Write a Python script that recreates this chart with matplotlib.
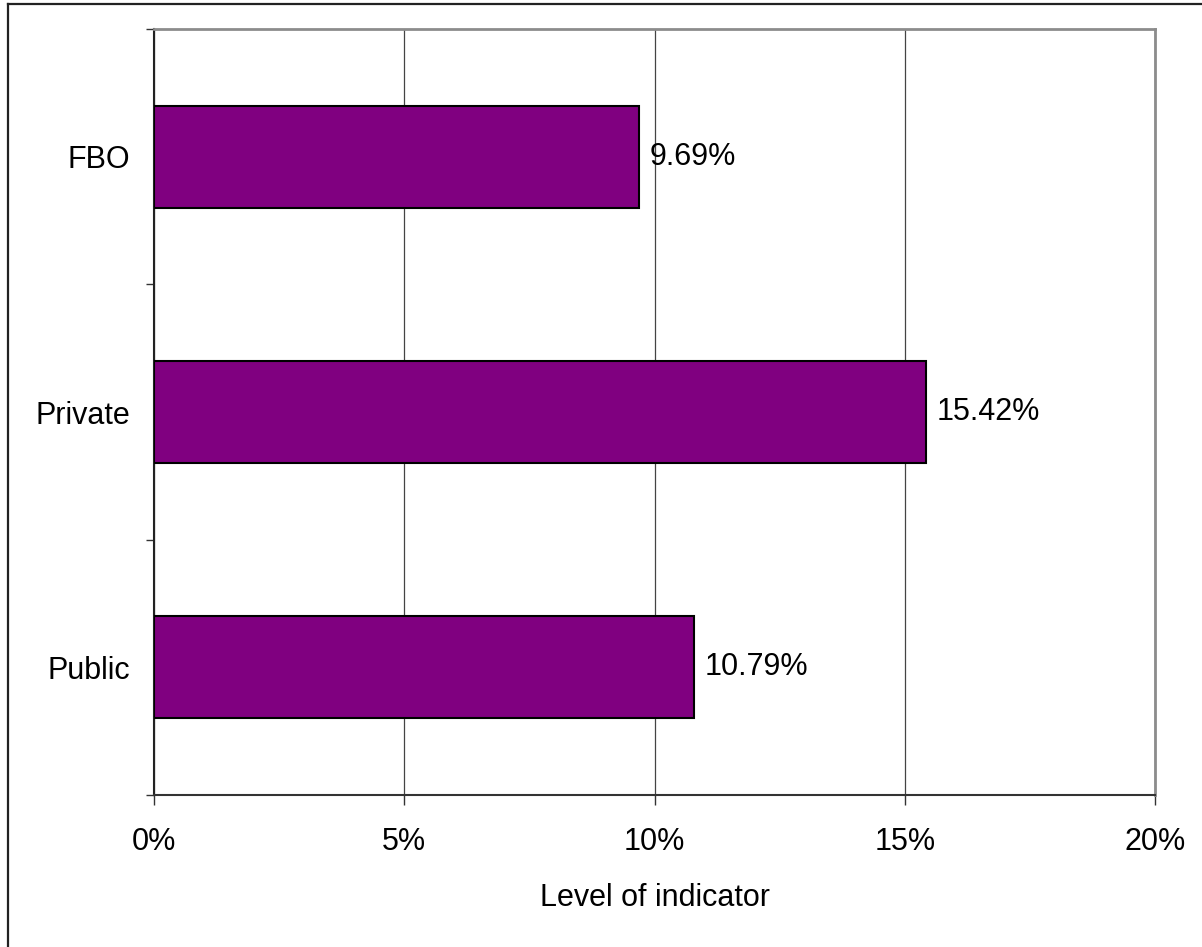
import matplotlib
matplotlib.use("Agg")
import matplotlib.pyplot as plt
from matplotlib.lines import Line2D
from matplotlib.ticker import FixedLocator, NullFormatter

categories = ["Public", "Private", "FBO"]
values = [10.79, 15.42, 9.69]
x_ticks = [0, 5, 10, 15, 20]
x_ticklabels = ["0%", "5%", "10%", "15%", "20%"]
x_label = "Level of indicator"

plt.rcParams["font.family"] = ["Liberation Sans", "DejaVu Sans"]
FS = 22

W, H = 1202, 947
fig = plt.figure(figsize=(W / 100, H / 100), dpi=100)
ax = fig.add_axes([154 / W, 1 - 795 / H, (1155 - 154) / W, (795 - 29) / H])

ypos = list(range(len(categories)))
ax.barh(ypos, values, height=0.4, color="#800080", edgecolor="black",
        linewidth=1.5, zorder=3)

for y, v in zip(ypos, values):
    ax.annotate(f"{v:.2f}%", xy=(v, y), xytext=(7.5, 0), textcoords="offset points",
                ha="left", va="center", fontsize=FS, color="black", zorder=4)

ax.set_xlim(0, 20)
ax.set_ylim(-0.5, len(categories) - 0.5)

ax.set_xticks(x_ticks)
ax.set_xticklabels(x_ticklabels, fontsize=FS)
ax.tick_params(axis="x", direction="out", length=7, width=1, color="#333333", pad=16)

ax.yaxis.set_major_locator(FixedLocator([i - 0.5 for i in range(len(categories) + 1)]))
ax.yaxis.set_major_formatter(NullFormatter())
ax.yaxis.set_minor_locator(FixedLocator(ypos))
ax.set_yticklabels(categories, minor=True, fontsize=FS)
ax.tick_params(axis="y", which="major", direction="out", length=6, width=1, color="#333333")
ax.tick_params(axis="y", which="minor", length=0, pad=17)

ax.set_xlabel(x_label, fontsize=FS, labelpad=19)

ax.grid(axis="x", color="#444444", linewidth=0.9, zorder=0)
ax.set_axisbelow(True)

for side in ("top", "right"):
    ax.spines[side].set_color("#8c8c8c")
    ax.spines[side].set_linewidth(2)
ax.spines["left"].set_color("#222222")
ax.spines["left"].set_linewidth(1.5)
ax.spines["bottom"].set_color("#333333")
ax.spines["bottom"].set_linewidth(1.5)

# chart frame: left and top edges
fig.add_artist(Line2D([8 / W, 8 / W], [0, 1 - 4 / H], transform=fig.transFigure,
                      color="#222222", linewidth=1.6))
fig.add_artist(Line2D([8 / W, 1], [1 - 4 / H, 1 - 4 / H], transform=fig.transFigure,
                      color="#222222", linewidth=1.6))

fig.savefig("out.png", dpi=100, facecolor="white")
